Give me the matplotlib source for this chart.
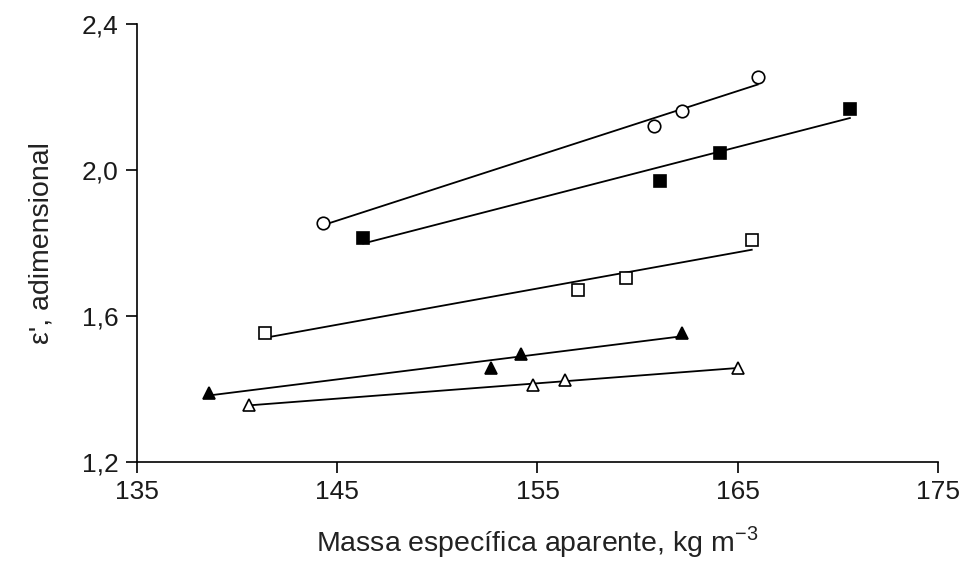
import numpy as np
import matplotlib
matplotlib.use("Agg")
import matplotlib.pyplot as plt

plt.rcParams['font.family'] = ['Liberation Sans', 'DejaVu Sans']

# Data (massa específica, epsilon')
x_circ = [144.3, 160.8, 162.2, 166.0]
y_circ = [1.855, 2.12, 2.16, 2.255]

x_fsq = [146.3, 161.1, 164.1, 170.6]
y_fsq = [1.814, 1.97, 2.047, 2.167]

x_osq = [141.4, 157.0, 159.4, 165.7]
y_osq = [1.553, 1.671, 1.704, 1.808]

x_ftri = [138.6, 152.7, 154.2, 162.2]
y_ftri = [1.389, 1.458, 1.496, 1.553]

x_otri = [140.6, 154.8, 156.4, 165.0]
y_otri = [1.356, 1.411, 1.425, 1.458]

x_ticks = [135, 145, 155, 165, 175]
y_ticks = [1.2, 1.6, 2.0, 2.4]
y_ticklabels = ['1,2', '1,6', '2,0', '2,4']

series = [
    (x_circ, y_circ, 'o', 'white', 9),
    (x_fsq, y_fsq, 's', 'black', 9),
    (x_osq, y_osq, 's', 'white', 9),
    (x_ftri, y_ftri, '^', 'black', 9),
    (x_otri, y_otri, '^', 'white', 9),
]

fig = plt.figure(figsize=(9.71, 5.65), dpi=100)
ax = fig.add_axes([0.141, 0.182, 0.825, 0.776])

for xs, ys, mk, fc, ms in series:
    xs = np.array(xs)
    ys = np.array(ys)
    # linear trend line over the range of each series
    k, b = np.polyfit(xs, ys, 1)
    xl = np.array([xs.min(), xs.max()])
    ax.plot(xl, k * xl + b, color='black', linewidth=1.3, zorder=2)
    ax.plot(xs, ys, linestyle='none', marker=mk, markersize=ms,
            markerfacecolor=fc, markeredgecolor='black', markeredgewidth=1.2, zorder=3)

ax.set_xlim(135, 175)
ax.set_ylim(1.2, 2.4)
ax.set_xticks(x_ticks)
ax.set_xticklabels([str(v) for v in x_ticks])
ax.set_yticks(y_ticks)
ax.set_yticklabels(y_ticklabels)

ax.spines['top'].set_visible(False)
ax.spines['right'].set_visible(False)
ax.spines['left'].set_linewidth(1.2)
ax.spines['bottom'].set_linewidth(1.2)
ax.tick_params(direction='out', length=8, width=1.2, labelsize=19, pad=5, labelcolor='#1a1a1a')

ax.set_xlabel('Massa específica aparente, kg m$^{\\mathregular{-3}}$', fontsize=20.5, color='#222222', labelpad=14)
ax.set_ylabel("ε', adimensional", fontsize=20.5, color='#222222', labelpad=20)

fig.savefig('out.png', dpi=100)
